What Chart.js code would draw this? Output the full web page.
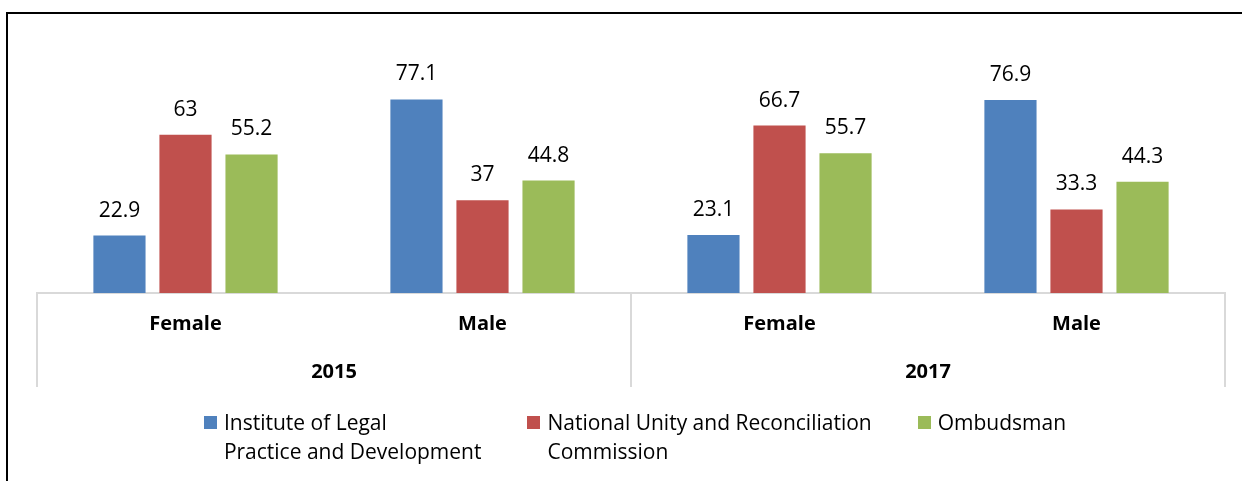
<!DOCTYPE html>
<html>
<head>
<meta charset="utf-8">
<script src="https://cdn.jsdelivr.net/npm/chart.js@4/dist/chart.umd.min.js"></script>
<style>
  html, body { margin: 0; padding: 0; background: #fff; overflow: hidden; }
  #frame { position: absolute; left: 6px; top: 12px; width: 1300px; height: 500px;
           border-left: 2px solid #000; border-top: 2px solid #000; }
  #mycanvas { position: absolute; left: 0; top: 0; }
  #legend { position: absolute; left: 0; width: 1242px; top: 408px; padding-left: 28px; box-sizing: border-box;
            display: flex; justify-content: center; gap: 46px;
            font-family: "Open Sans", sans-serif; font-size: 21px; line-height: 29px; color: #000; }
  .item { display: flex; align-items: flex-start; }
  .box { width: 13px; height: 13px; margin-top: 8px; margin-right: 7px; flex: none; }
</style>
</head>
<body>
<div id="frame"></div>
<canvas id="mycanvas" width="1242" height="481"></canvas>
<div id="legend"></div>
<script>
// data
var categories = ["Female", "Male", "Female", "Male"];
var years = ["2015", "2017"];
var seriesNames = [
  ["Institute of Legal", "Practice and Development"],
  ["National Unity and Reconciliation", "Commission"],
  ["Ombudsman"]
];
var legalInstitute = [22.9, 77.1, 23.1, 76.9];
var unityCommission = [63, 37, 66.7, 33.3];
var ombudsman = [55.2, 44.8, 55.7, 44.3];
var colors = ["#4F81BD", "#C0504D", "#9BBB59"];

var font = "'Open Sans', sans-serif";
Chart.defaults.color = "#000";

// values above the bars
var valueLabels = {
  id: "valueLabels",
  afterDatasetsDraw: function(chart) {
    var ctx = chart.ctx;
    ctx.save();
    ctx.font = "21px " + font;
    ctx.fillStyle = "#000";
    ctx.textAlign = "center";
    ctx.textBaseline = "middle";
    chart.data.datasets.forEach(function(ds, i) {
      chart.getDatasetMeta(i).data.forEach(function(bar, j) {
        ctx.fillText(String(ds.data[j]), bar.x, bar.y - 25);
      });
    });
    ctx.restore();
  }
};

// vertical separators between the year groups
var yearDividers = {
  id: "yearDividers",
  afterDraw: function(chart) {
    var x = chart.scales.x, x2 = chart.scales.x2;
    var per = categories.length / years.length;
    var ctx = chart.ctx;
    ctx.save();
    ctx.strokeStyle = "#D9D9D9";
    ctx.lineWidth = 2;
    for (var k = 0; k <= years.length; k++) {
      var px = Math.round(x.getPixelForValue(k * per - 0.5));
      ctx.beginPath();
      ctx.moveTo(px, chart.chartArea.bottom);
      ctx.lineTo(px, x2.bottom - 2);
      ctx.stroke();
    }
    ctx.restore();
  }
};

var chartdata = {
  labels: categories,
  datasets: [
    { label: seriesNames[0].join(" "), data: legalInstitute, backgroundColor: colors[0] },
    { label: seriesNames[1].join(" "), data: unityCommission, backgroundColor: colors[1] },
    { label: seriesNames[2].join(" "), data: ombudsman, backgroundColor: colors[2] }
  ]
};

var ctx = document.getElementById("mycanvas");
var BarGraph = new Chart(ctx, {
  type: "bar",
  data: chartdata,
  plugins: [valueLabels, yearDividers],
  options: {
    responsive: false,
    animation: false,
    devicePixelRatio: 1,
    categoryPercentage: 0.667,
    barPercentage: 0.79,
    layout: { padding: { left: 37, right: 17, top: 42, bottom: 92 } },
    plugins: { legend: { display: false }, tooltip: { enabled: false } },
    scales: {
      y: { display: false, min: 0, max: 100 },
      x: {
        position: "bottom",
        weight: 0,
        grid: { display: true, drawOnChartArea: false, drawTicks: false, color: "rgba(0,0,0,0)" },
        border: { display: true, color: "#D9D9D9", width: 2 },
        ticks: { padding: 19, font: { family: font, size: 20, weight: "bold" } }
      },
      x2: {
        type: "category",
        labels: years,
        position: "bottom",
        weight: 1,
        offset: true,
        grid: { display: false, drawTicks: false },
        border: { display: false },
        ticks: { padding: 5, font: { family: font, size: 20, weight: "bold" } }
      }
    }
  }
});

// legend built from the series names and colours
var legend = document.getElementById("legend");
seriesNames.forEach(function(lines, i) {
  var item = document.createElement("div");
  item.className = "item";
  var box = document.createElement("span");
  box.className = "box";
  box.style.background = colors[i];
  var txt = document.createElement("div");
  lines.forEach(function(l) {
    var d = document.createElement("div");
    d.textContent = l;
    txt.appendChild(d);
  });
  item.appendChild(box);
  item.appendChild(txt);
  legend.appendChild(item);
});
</script>
</body>
</html>
